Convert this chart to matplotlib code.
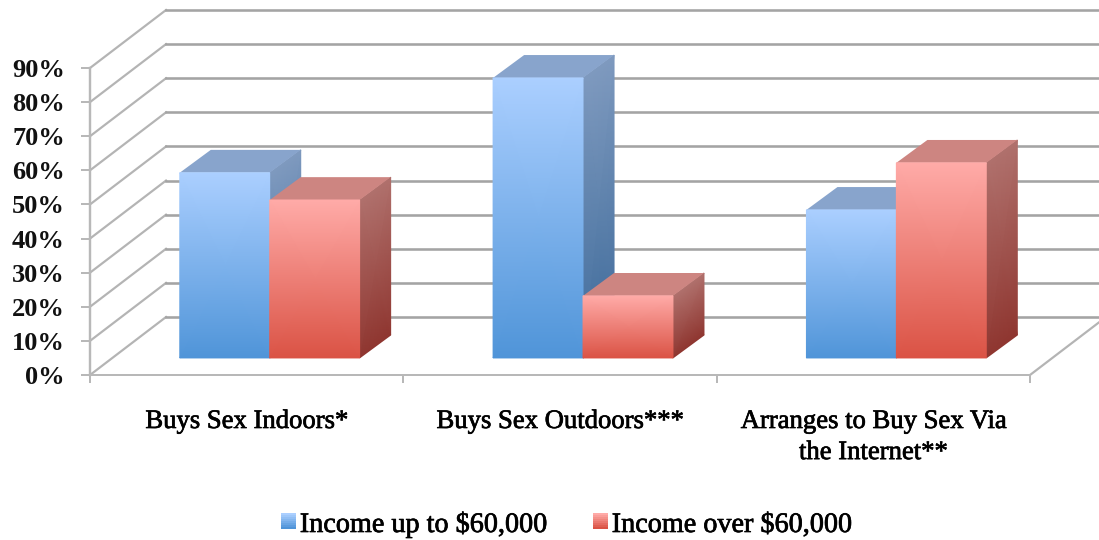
#!/usr/bin/env python3
"""3D-look clustered bars: buying sex by income group."""

import matplotlib

matplotlib.use("Agg")
import matplotlib.patheffects as pe
import matplotlib.pyplot as plt
import numpy as np
from matplotlib.colors import LinearSegmentedColormap
from matplotlib.patches import Patch, Polygon, Rectangle

categories = ["Buys Sex Indoors*", "Buys Sex Outdoors***", "Arranges to Buy Sex Via\nthe Internet**"]
low_income = [54.3, 82.1, 43.4]
high_income = [46.3, 18.2, 57.2]
series_names = ["Income up to $60,000", "Income over $60,000"]
y_ticks = [0, 10, 20, 30, 40, 50, 60, 70, 80, 90]

FONT = "Liberation Serif"
DPI = 100
GRID = "#a4a4a4"
PT = 72 / DPI  # one pixel in points

# depth of the fake 3D box, in data units
WALL_DX = 0.2426
WALL_DY = 17.0
BAR_DX = 0.099
BAR_DY = 6.7
BAR_BASE = 5.0
BAR_W = 0.287
BAR_SHIFT = 0.0735

FRONT = {
    "blue": ("#4f94d8", "#abcfff"),
    "red": ("#da5244", "#ffaba8"),
}
SIDE = {
    "blue": ("#3f6b9b", "#7f9abf"),
    "red": ("#8f3630", "#b0716d"),
}
TOP = {"blue": "#88a4cc", "red": "#cd8581"}

# the reference text is a bit heavier than the regular face
HEAVY = [pe.withStroke(linewidth=0.7 * PT, foreground="#000000")]


def gradient_face(ax, xs, ys, colors, zorder):
    # xs, ys are 2x2 corners, first row is the bottom
    cmap = LinearSegmentedColormap.from_list("face", colors)
    c = np.array([[0.0, 0.0], [1.0, 1.0]])
    ax.pcolormesh(xs, ys, c, shading="gouraud", cmap=cmap, vmin=0, vmax=1,
                  zorder=zorder, clip_on=False)


def draw_bar(ax, left, value, kind, zorder):
    right = left + BAR_W
    top = BAR_BASE + value
    xs = np.array([[right, right + BAR_DX], [right, right + BAR_DX]])
    ys = np.array([[BAR_BASE, BAR_BASE + BAR_DY], [top, top + BAR_DY]])
    gradient_face(ax, xs, ys, SIDE[kind], zorder)
    ax.add_patch(Polygon(
        [(left, top), (right, top), (right + BAR_DX, top + BAR_DY), (left + BAR_DX, top + BAR_DY)],
        closed=True, facecolor=TOP[kind], edgecolor="none", zorder=zorder, clip_on=False))
    xs = np.array([[left, right], [left, right]])
    ys = np.array([[BAR_BASE, BAR_BASE], [top, top]])
    gradient_face(ax, xs, ys, FRONT[kind], zorder + 0.1)


class GradientSwatch:
    def __init__(self, kind):
        self.kind = kind

    def legend_artist(self, legend, orig_handle, fontsize, handlebox):
        x0, y0 = handlebox.xdescent, handlebox.ydescent + 5 * PT
        w, h = handlebox.width, handlebox.height
        cmap = LinearSegmentedColormap.from_list("swatch", FRONT[self.kind])
        steps = 8
        for i in range(steps):
            handlebox.add_artist(Rectangle(
                (x0, y0 + h * i / steps), w, h / steps + 0.2, facecolor=cmap(i / (steps - 1)),
                edgecolor="none", transform=handlebox.get_transform()))
        return orig_handle


fig = plt.figure(figsize=(1099 / DPI, 540 / DPI), dpi=DPI, facecolor="white")
ax = fig.add_axes([90 / 1099, (540 - 375) / 540, 940 / 1099, 307 / 540])
ax.patch.set_visible(False)

# walls and floor
for tick in y_ticks:
    ax.plot([0, WALL_DX], [tick, tick + WALL_DY], color="#b4b4b4", lw=2.2 * PT, clip_on=False, zorder=1)
    ax.plot([WALL_DX, 3 + WALL_DX], [tick + WALL_DY, tick + WALL_DY], color=GRID, lw=2.6 * PT,
            clip_on=False, zorder=1)
ax.plot([3, 3 + WALL_DX], [0, WALL_DY], color="#b4b4b4", lw=2.2 * PT, clip_on=False, zorder=1)

for i in range(len(categories)):
    left = i + 0.5 + BAR_SHIFT - BAR_W
    draw_bar(ax, left, low_income[i], "blue", 2 + i)
    draw_bar(ax, left + BAR_W, high_income[i], "red", 2.5 + i)

ax.set_xlim(0, 3)
ax.set_ylim(0, 90)
for side in ("top", "right"):
    ax.spines[side].set_visible(False)
ax.spines["left"].set_color("#b8b8b8")
ax.spines["left"].set_linewidth(2.4 * PT)
ax.spines["bottom"].set_color("#b8b8b8")
ax.spines["bottom"].set_linewidth(2.0 * PT)

ax.set_yticks(y_ticks)
ax.set_yticklabels([f"{t}%" for t in y_ticks], fontfamily=FONT, fontweight="bold", fontsize=19, color="#111111")
ax.tick_params(axis="y", length=9 * PT, width=2 * PT, color="#b8b8b8", pad=16 * PT)
ax.set_xticks([0, 1, 2, 3])
ax.set_xticklabels([])
ax.tick_params(axis="x", which="major", length=8 * PT, width=2 * PT, color="#b8b8b8")
ax.set_xticks([0.5, 1.5, 2.5], minor=True)
labels = ax.set_xticklabels(categories, minor=True, fontfamily=FONT, fontsize=19.2,
                            color="#000000", linespacing=1.32)
for label in labels:
    label.set_path_effects(HEAVY)
ax.tick_params(axis="x", which="minor", length=0, pad=34 * PT)

handles = [Patch(label=series_names[0]), Patch(label=series_names[1])]
legend = fig.legend(handles=handles,
                    handler_map={handles[0]: GradientSwatch("blue"), handles[1]: GradientSwatch("red")},
                    loc="center", bbox_to_anchor=(567 / 1099, 1 - 525 / 540), ncol=2, frameon=False,
                    prop={"family": FONT, "size": 20.3}, handlelength=0.54, handleheight=0.5,
                    handletextpad=0.14, columnspacing=1.56, labelcolor="#000000")
for text in legend.get_texts():
    text.set_path_effects(HEAVY)

fig.savefig("out.png", dpi=DPI)
plt.close(fig)
